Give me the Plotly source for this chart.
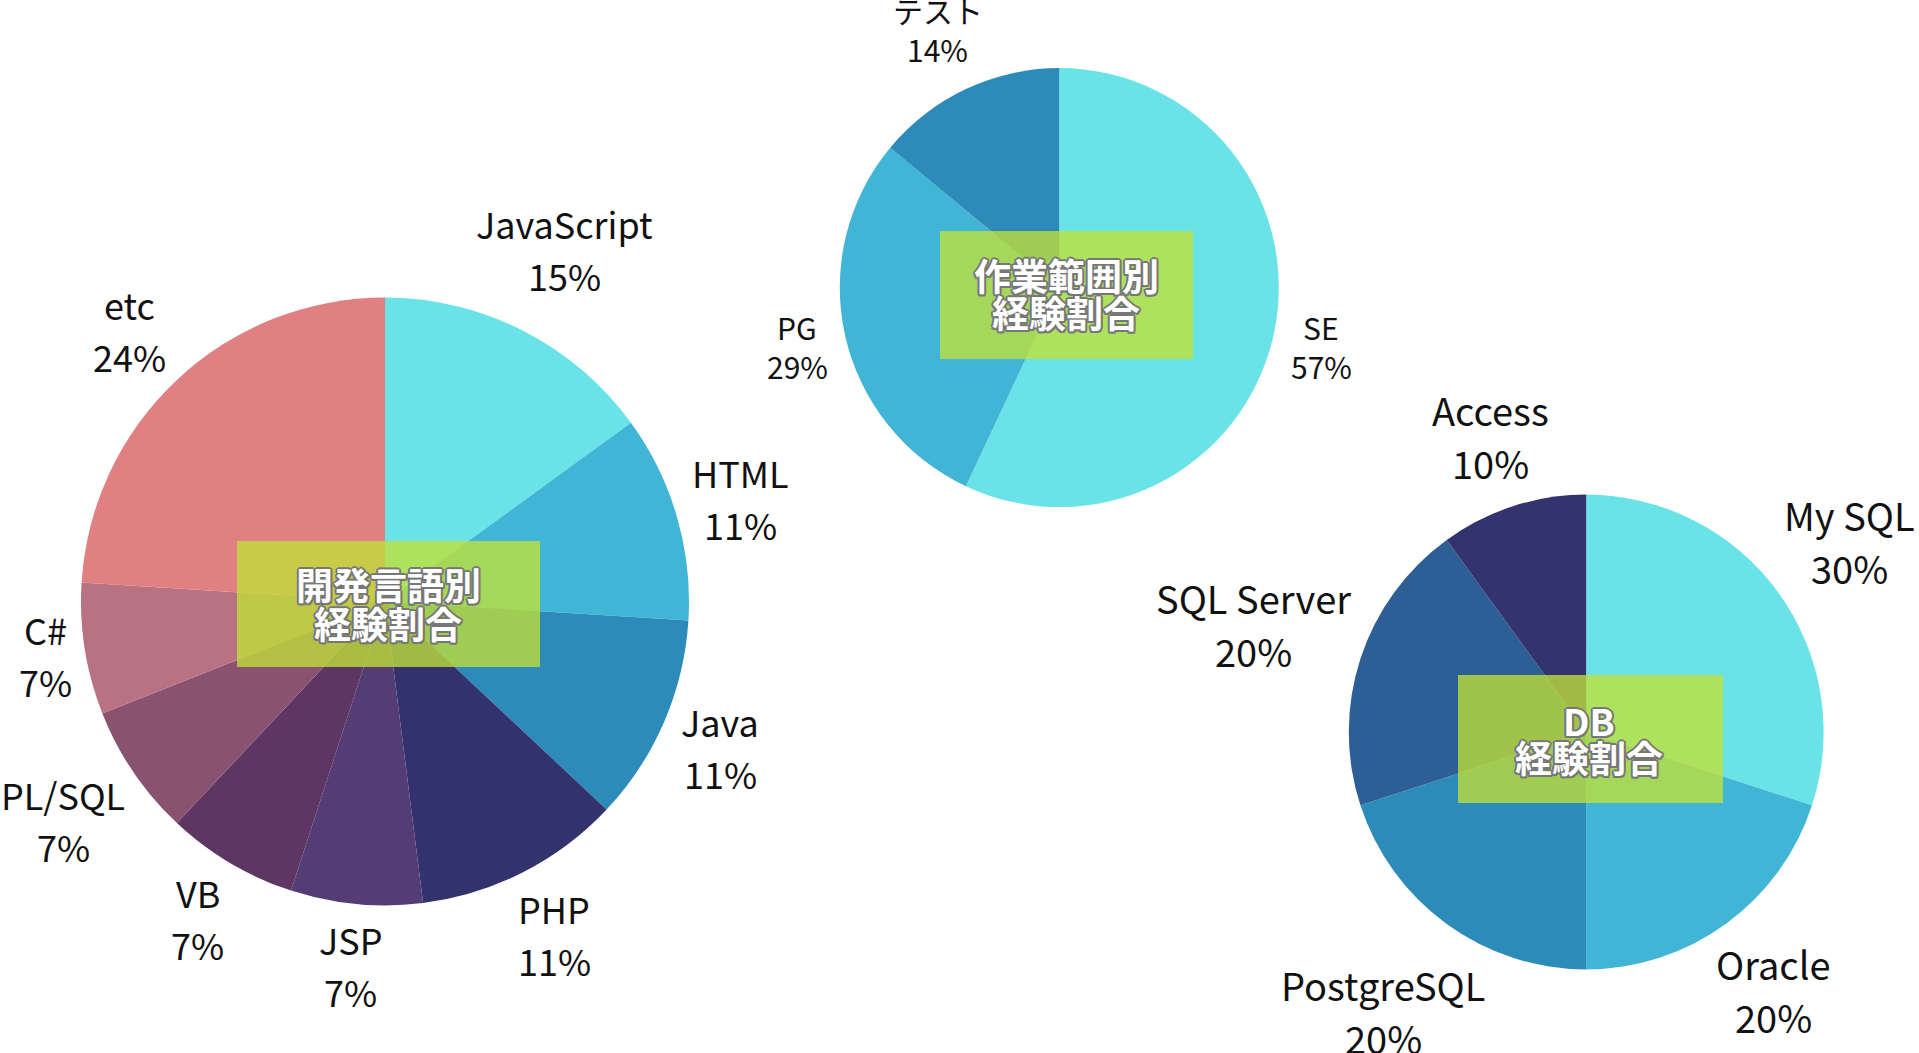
import math
import plotly.graph_objects as go

W, H = 1919, 1053

# ---- data ----
lang_labels = ["JavaScript", "HTML", "Java", "PHP", "JSP", "VB", "PL/SQL", "C#", "etc"]
lang_values = [15, 11, 11, 11, 7, 7, 7, 7, 24]
lang_colors = ["#69E3E7", "#40B5D6", "#2C8BB9", "#32336D", "#533D74",
               "#5E3663", "#8A5271", "#B97282", "#E08082"]
lang_title = ["開発言語別", "経験割合"]

work_labels = ["SE", "PG", "テスト"]
work_values = [57, 29, 14]
work_colors = ["#69E3E7", "#40B5D6", "#2C8BB9"]
work_title = ["作業範囲別", "経験割合"]

db_labels = ["My SQL", "Oracle", "PostgreSQL", "SQL Server", "Access"]
db_values = [30, 20, 20, 20, 10]
db_colors = ["#69E3E7", "#40B5D6", "#2C8BB9", "#2E5E96", "#33336D"]
db_title = ["DB", "経験割合"]

FONT = "Noto Sans CJK JP"

# approximate advance widths (em) for measuring label blocks
CW = {"A": .62, "B": .64, "C": .63, "D": .68, "E": .55, "G": .68, "H": .72, "J": .48,
      "L": .52, "M": .82, "O": .73, "P": .63, "Q": .73, "S": .59, "T": .57, "V": .6,
      "a": .55, "c": .49, "e": .54, "g": .55, "i": .26, "l": .27, "o": .58, "p": .6,
      "r": .38, "s": .46, "t": .39, "v": .52, "y": .51, "%": .9, "/": .37, "#": .55, " ": .22}


def text_w(s, fs):
    return sum(CW.get(ch, .55 if ord(ch) < 0x2E80 else 1.0) for ch in s) * fs


def dom(cx, cy, r):
    return dict(x=[(cx - r) / W, (cx + r) / W], y=[1 - (cy + r) / H, 1 - (cy - r) / H])


fig = go.Figure()


def add_pie(labels, values, colors, cx, cy, r, fs, pitch, pad):
    fig.add_trace(go.Pie(
        labels=labels, values=values, sort=False, direction="clockwise", rotation=0,
        marker=dict(colors=colors, line=dict(width=0)),
        textinfo="none", domain=dom(cx, cy, r), showlegend=False,
        hoverinfo="label+percent",
    ))
    total = sum(values)
    cum = 0
    for lab, v in zip(labels, values):
        mid = (cum + v / 2) / total * 2 * math.pi
        cum += v
        pct = f"{round(v / total * 100)}%"
        w = max(text_w(lab, fs), text_w(pct, fs)) / 2
        s, c = math.sin(mid), math.cos(mid)
        d = r + pad + w * abs(s) + pitch * abs(c)
        x, y = cx + d * s, cy - d * c
        for t, sh in ((lab, pitch / 2), (pct, -pitch / 2)):
            fig.add_annotation(xref="paper", yref="paper", x=x / W, y=1 - y / H, yshift=sh,
                               text=t, showarrow=False, xanchor="center", yanchor="middle",
                               font=dict(family=FONT, size=fs, color="#111111"))


add_pie(lang_labels, lang_values, lang_colors, 385, 601.5, 304, 36, 52, 6)
add_pie(work_labels, work_values, work_colors, 1059.3, 287.6, 219.5, 30, 39, 11)
add_pie(db_labels, db_values, db_colors, 1586.2, 732, 237.4, 38, 53, 5)

boxes = [
    ((237, 541, 540, 667), lang_title, (388, 584, 623)),
    ((940, 231, 1193, 359), work_title, (1066, 275, 312)),
    ((1458, 675, 1723, 803), db_title, (1589, 720, 757)),
]
shadow = ("2px 0 0 #777, -2px 0 0 #777, 0 2px 0 #777, 0 -2px 0 #777, "
          "1.5px 1.5px 0 #777, -1.5px -1.5px 0 #777, 1.5px -1.5px 0 #777, -1.5px 1.5px 0 #777")
for (x0, y0, x1, y1), title, (tx, ty1, ty2) in boxes:
    fig.add_shape(type="rect", xref="paper", yref="paper",
                  x0=x0 / W, x1=x1 / W, y0=1 - y1 / H, y1=1 - y0 / H,
                  fillcolor="rgba(192,224,55,0.78)", line=dict(width=0), layer="above")
    for t, ty in zip(title, (ty1, ty2)):
        fig.add_annotation(xref="paper", yref="paper", x=tx / W, y=1 - ty / H,
                           text=t, showarrow=False, xanchor="center", yanchor="middle",
                           font=dict(family=FONT, size=37, color="white", weight="bold",
                                     shadow=shadow))

fig.update_layout(
    width=W, height=H, margin=dict(l=0, r=0, t=0, b=0, autoexpand=False),
    paper_bgcolor="white", plot_bgcolor="white",
    font=dict(family=FONT),
)

fig.write_html("out.html", config={"displayModeBar": False},
               post_script="document.body.style.margin='0';")
